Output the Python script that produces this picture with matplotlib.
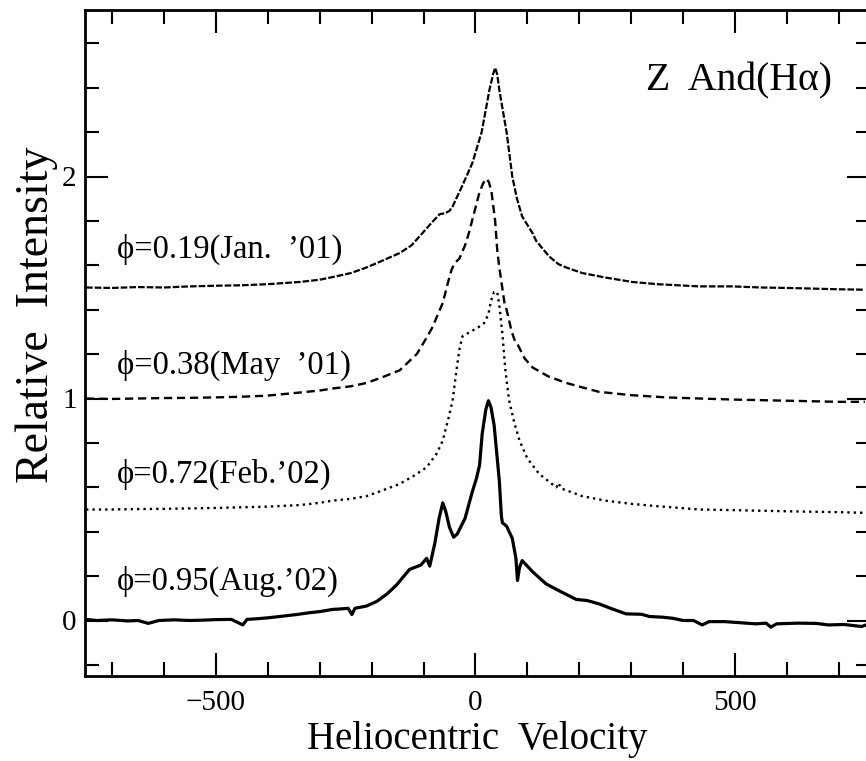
import numpy as np
import matplotlib
matplotlib.use('Agg')
import matplotlib.pyplot as plt
from matplotlib.ticker import MultipleLocator

plt.rcParams['font.family'] = ['Liberation Serif', 'DejaVu Serif']
###############################################################################
# Data (velocity, relative intensity incl. offsets)
###############################################################################
v_jan01 = [-750, -700, -650, -600, -550, -500, -450, -400, -338, -300, -275,
           -240, -210, -180, -146, -123, -102, -85, -69, -58, -50, -44, -25,
           -6, 12, 27, 34, 38, 42, 46, 60, 71, 80, 90, 110, 117, 142, 160,
           175, 206, 250, 302, 350, 431, 494, 550, 600, 650, 700, 750]
i_jan01 = [1.500, 1.498, 1.502, 1.500, 1.505, 1.508, 1.510, 1.515, 1.525,
           1.535, 1.547, 1.565, 1.590, 1.620, 1.655, 1.690, 1.745, 1.790,
           1.830, 1.835, 1.845, 1.865, 1.960, 2.060, 2.200, 2.390, 2.460,
           2.490, 2.460, 2.390, 2.200, 2.000, 1.900, 1.820, 1.745, 1.710,
           1.640, 1.605, 1.590, 1.565, 1.545, 1.525, 1.515, 1.505, 1.505,
           1.500, 1.498, 1.495, 1.492, 1.490]

v_may01 = [-750, -700, -650, -600, -550, -500, -450, -400, -338, -300, -275,
           -240, -210, -180, -146, -113, -95, -83, -63, -52, -46, -40, -31,
           -20, -12, -6, 8, 15, 21, 26, 31, 38, 42, 46, 56, 60, 70, 76, 79,
           82, 95, 110, 140, 175, 206, 238, 300, 367, 431, 500, 600, 700, 750]
i_may01 = [1.000, 0.998, 1.000, 1.002, 1.003, 1.005, 1.008, 1.013, 1.027,
           1.036, 1.045, 1.055, 1.070, 1.095, 1.127, 1.200, 1.270, 1.320,
           1.430, 1.530, 1.580, 1.610, 1.630, 1.690, 1.750, 1.805, 1.930,
           1.970, 1.990, 1.975, 1.930, 1.800, 1.670, 1.590, 1.430, 1.400,
           1.300, 1.260, 1.245, 1.240, 1.180, 1.140, 1.100, 1.070, 1.050,
           1.030, 1.015, 1.005, 1.000, 0.995, 0.990, 0.985, 0.985]

v_feb02 = [-750, -700, -650, -600, -550, -500, -450, -400, -338, -300, -275,
           -240, -210, -180, -146, -120, -94, -75, -63, -52, -44, -38, -31,
           -25, -10, 5, 17, 25, 30, 36, 42, 46, 52, 58, 65, 75, 85, 100, 123,
           150, 156, 160, 165, 206, 250, 302, 350, 431, 500, 600, 700, 750]
i_feb02 = [0.500, 0.500, 0.502, 0.503, 0.505, 0.507, 0.510, 0.513, 0.520,
           0.530, 0.540, 0.548, 0.560, 0.585, 0.615, 0.650, 0.690, 0.750,
           0.810, 0.910, 0.990, 1.100, 1.220, 1.280, 1.300, 1.320, 1.340,
           1.380, 1.440, 1.480, 1.480, 1.420, 1.290, 1.120, 0.990, 0.890,
           0.810, 0.730, 0.660, 0.610, 0.600, 0.620, 0.595, 0.560, 0.540,
           0.525, 0.515, 0.500, 0.497, 0.492, 0.488, 0.485]

v_aug02 = [-750, -730, -700, -670, -650, -630, -610, -580, -550, -520, -500,
           -470, -448, -440, -420, -400, -377, -344, -320, -300, -275, -260,
           -245, -238, -232, -210, -190, -170, -152, -127, -105, -94, -88,
           -78, -70, -63, -57, -50, -42, -35, -20, -6, 2, 8, 13, 20, 25, 30,
           36, 40, 46, 50, 52, 60, 71, 78, 81, 85, 90, 110, 136, 156, 194,
           215, 238, 260, 290, 320, 335, 360, 380, 400, 420, 437, 450, 480,
           510, 540, 560, 569, 580, 620, 656, 680, 710, 744, 750]
i_aug02 = [0.005, 0.000, 0.003, -0.002, 0.000, -0.013, 0.000, 0.003, 0.000,
           0.002, 0.004, 0.005, -0.020, 0.005, 0.008, 0.012, 0.018, 0.027,
           0.035, 0.040, 0.050, 0.052, 0.055, 0.027, 0.055, 0.065, 0.086,
           0.120, 0.160, 0.230, 0.250, 0.280, 0.245, 0.350, 0.460, 0.530,
           0.490, 0.420, 0.375, 0.390, 0.460, 0.580, 0.640, 0.700, 0.840,
           0.950, 0.990, 0.960, 0.880, 0.780, 0.630, 0.470, 0.440, 0.425,
           0.370, 0.280, 0.180, 0.240, 0.270, 0.220, 0.165, 0.140, 0.095,
           0.090, 0.075, 0.055, 0.030, 0.028, 0.018, 0.015, 0.010, 0.000,
           0.000, -0.020, -0.005, -0.005, -0.010, -0.015, -0.012, -0.030,
           -0.015, -0.012, -0.013, -0.020, -0.018, -0.027, -0.022]

labels = ['\u03d5=0.19(Jan.  \u201901)', '\u03d5=0.38(May  \u201901)',
          '\u03d5=0.72(Feb.\u201902)', '\u03d5=0.95(Aug.\u201902)']
label_y = [1.67, 1.15, 0.66, 0.176]
###############################################################################
# Plot
###############################################################################
fig = plt.figure(figsize=(8.66, 7.61), dpi=100)
ax = fig.add_axes([85/866, 85/761, 785/866, 666/761])

ax.plot(v_jan01, i_jan01, color='k', lw=1.6, dashes=(3, 0.9))
ax.plot(v_may01, i_may01, color='k', lw=1.7, dashes=(3.5, 2))
ax.plot(v_feb02, i_feb02, color='k', lw=1.7, dashes=(1, 1.7))
ax.plot(v_aug02, i_aug02, color='k', lw=2.3, solid_joinstyle='round')

for (lab, y) in zip(labels, label_y):
    ax.text(-690, y, lab, fontsize=23.5, va='center', ha='left')
ax.text(686, 2.43, 'Z  And(H\u03b1)', fontsize=28.5, va='center', ha='right')

# Styling
ax.set_xlim(-752, 760)
ax.set_ylim(-0.25, 2.75)
ax.xaxis.set_major_locator(MultipleLocator(500))
ax.xaxis.set_minor_locator(MultipleLocator(100))
ax.yaxis.set_major_locator(MultipleLocator(1))
ax.yaxis.set_minor_locator(MultipleLocator(0.2))
ax.tick_params(which='both', direction='in', top=True, right=True,
               width=1.5, labelsize=21)
ax.tick_params(which='major', length=16.5)
ax.tick_params(which='minor', length=10)
ax.tick_params(axis='x', pad=10)
ax.tick_params(axis='y', pad=6)
for sp in ax.spines.values():
    sp.set_linewidth(2)
ax.set_xlabel('Heliocentric  Velocity', fontsize=28, labelpad=4)
ax.set_ylabel('Relative  Intensity', fontsize=33, labelpad=3, y=0.542)

fig.savefig('out.png', dpi=100)
plt.close('all')
